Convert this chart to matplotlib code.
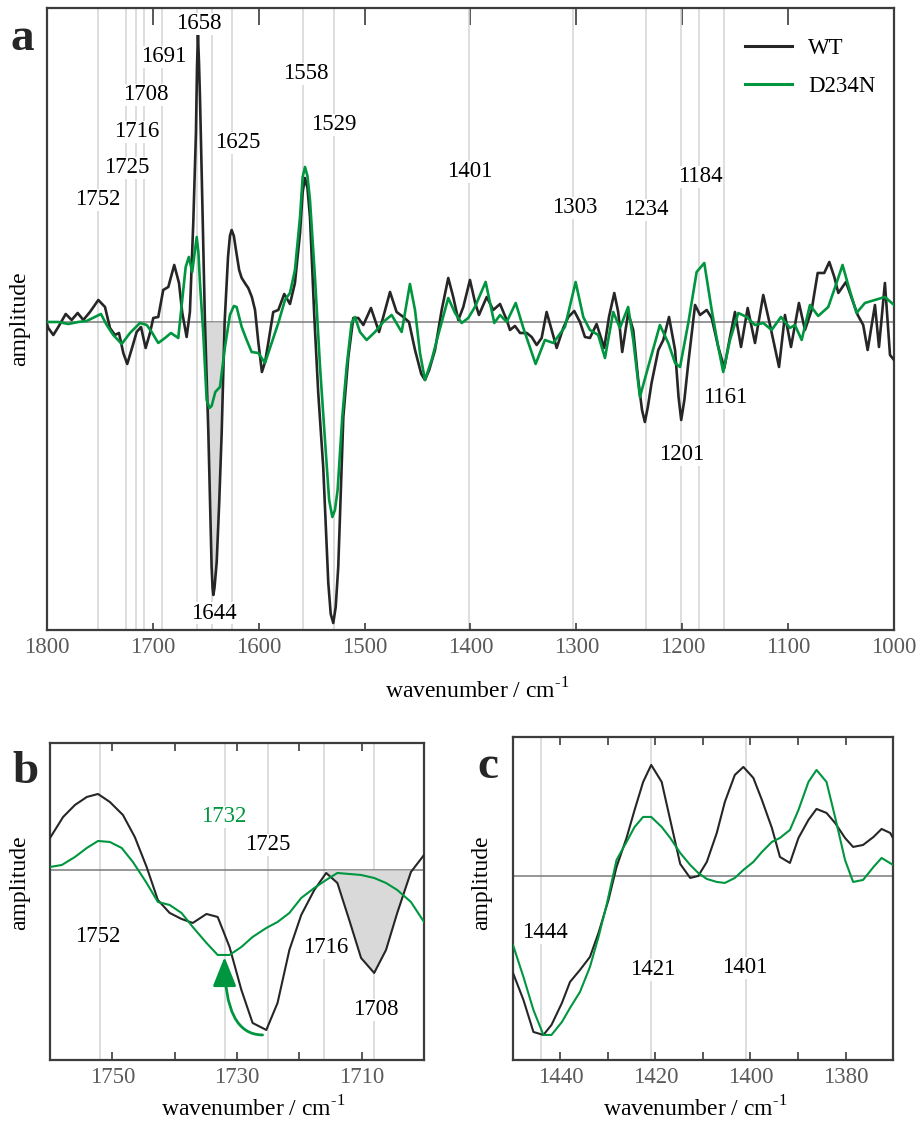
import numpy as np
import matplotlib.pyplot as plt
from matplotlib.patches import FancyArrowPatch, ArrowStyle
from matplotlib.lines import Line2D

plt.rcParams['font.family'] = ['Liberation Serif', 'DejaVu Serif']
plt.rcParams['mathtext.fontset'] = 'custom'
plt.rcParams['mathtext.rm'] = 'Liberation Serif'

# ---------------- data: (wavenumber, amplitude) pairs ----------------
# panel a, full range
wt_a = np.array([
    (1800, -0.02), (1798.8, -0.06), (1794.0, -0.13), (1789.3, -0.05), (1782.3, 0.08),
    (1776.7, 0.02), (1771.0, 0.09), (1765.7, 0.02), (1759.4, 0.10), (1751.5, 0.22),
    (1745.2, 0.15), (1740.5, -0.06), (1735.8, -0.13), (1732.0, -0.11), (1727.9, -0.31),
    (1724.2, -0.42), (1719.4, -0.25), (1715.3, -0.10), (1711.2, -0.05), (1706.8, -0.26),
    (1702.7, -0.11), (1699.6, 0.04), (1694.9, 0.05), (1690.2, 0.32), (1685.4, 0.35),
    (1679.8, 0.57), (1675.3, 0.39), (1672.2, 0.09), (1668.1, -0.15), (1665.0, 0.10),
    (1661.8, 1.00), (1659.3, 1.89), (1658.3, 2.55), (1657.4, 2.87), (1656.5, 2.62),
    (1655.5, 2.25), (1653.9, 1.50), (1652.3, 0.70), (1650.8, 0.00), (1647.6, -1.10),
    (1644.5, -2.45), (1643.6, -2.66), (1642.9, -2.73), (1641.8, -2.66), (1639.7, -2.40),
    (1637.3, -1.80), (1635.0, -1.11), (1632.2, 0.00), (1629.0, 0.65), (1627.2, 0.86),
    (1625.6, 0.92), (1623.5, 0.86), (1621.5, 0.72), (1618.5, 0.52), (1616.1, 0.44),
    (1612.5, 0.38), (1609.9, 0.34), (1606.5, 0.25), (1603.5, 0.12), (1600.4, -0.20),
    (1597.0, -0.50), (1594.0, -0.40), (1591.0, -0.21), (1586.3, 0.10), (1581.5, 0.12),
    (1575.9, 0.28), (1570.5, 0.18), (1565.8, 0.39), (1561.0, 0.89), (1558.5, 1.30),
    (1556.3, 1.44), (1554.0, 1.34), (1551.6, 1.05), (1547.5, 0.05), (1543.8, -0.71),
    (1539.1, -1.45), (1534.3, -2.61), (1532.0, -2.92), (1529.6, -3.01), (1527.3, -2.85),
    (1524.9, -2.45), (1520.1, -0.95), (1515.4, -0.35), (1510.7, 0.04), (1506.0, 0.04),
    (1501.2, -0.03), (1494.0, 0.14), (1486.4, -0.10), (1482.4, 0.05), (1476.0, 0.30),
    (1469.8, 0.10), (1463.4, 0.05), (1458.1, 0.00), (1452.4, -0.28), (1446.5, -0.52),
    (1443.0, -0.58), (1439.0, -0.48), (1433.5, -0.28), (1427.2, 0.12), (1421.0, 0.44),
    (1416.3, 0.25), (1411.5, 0.02), (1406.8, 0.15), (1400.5, 0.42), (1395.8, 0.20),
    (1392.0, 0.07), (1384.7, 0.25), (1378.5, 0.12), (1372.1, 0.18), (1365.8, 0.02),
    (1362.7, -0.08), (1358.0, -0.04), (1353.2, -0.11), (1346.9, -0.11), (1342.2, -0.15),
    (1337.5, -0.23), (1332.8, -0.16), (1328.1, 0.10), (1323.3, -0.08), (1318.6, -0.26),
    (1312.4, -0.06), (1307.6, 0.05), (1302.0, 0.11), (1296.6, 0.00), (1291.9, -0.15),
    (1287.2, -0.16), (1280.9, -0.02), (1273.7, -0.26), (1269.2, 0.05), (1264.2, 0.29),
    (1260.5, 0.10), (1256.7, -0.30), (1251.1, 0.09), (1246.3, -0.08), (1241.6, -0.58),
    (1238.0, -0.88), (1235.3, -1.00), (1232.5, -0.85), (1229.0, -0.61), (1222.6, -0.28),
    (1217.9, -0.18), (1212.5, 0.05), (1206.8, -0.28), (1203.5, -0.75), (1201.0, -0.98),
    (1198.0, -0.78), (1194.3, -0.41), (1187.9, 0.17), (1183.2, 0.07), (1176.9, 0.12),
    (1172.2, 0.04), (1166.0, -0.25), (1160.3, -0.46), (1154.9, -0.15), (1150.2, 0.10),
    (1144.5, -0.25), (1138.2, 0.14), (1131.3, -0.21), (1123.5, 0.27), (1117.1, -0.03),
    (1108.6, -0.45), (1103.0, 0.07), (1097.3, -0.25), (1089.8, 0.19), (1084.1, -0.08),
    (1077.8, 0.12), (1072.1, 0.49), (1065.9, 0.49), (1061.1, 0.60), (1056.4, 0.45),
    (1052.6, 0.29), (1045.4, 0.40), (1040.0, 0.24), (1034.3, 0.07), (1029.1, -0.03),
    (1024.9, -0.28), (1018.0, 0.17), (1014.2, -0.25), (1008.6, 0.39), (1003.8, -0.33),
    (1000.0, -0.38),
])

mut_a = np.array([
    (1800, 0.00), (1789.3, 0.00), (1779.9, -0.02), (1770.4, 0.00), (1762.5, 0.01),
    (1754.7, 0.05), (1749.0, 0.08), (1743.6, -0.03), (1737.4, -0.13), (1729.4, -0.22),
    (1721.6, -0.11), (1712.2, -0.01), (1705.8, -0.03), (1701.1, -0.10), (1694.9, -0.21),
    (1688.5, -0.16), (1682.9, -0.11), (1676.0, -0.16), (1672.2, 0.22), (1669.0, 0.55),
    (1666.0, 0.65), (1662.8, 0.50), (1660.2, 0.72), (1658.6, 0.85), (1657.0, 0.70),
    (1655.5, 0.39), (1652.4, -0.11), (1649.2, -0.78), (1646.5, -0.86), (1644.5, -0.84),
    (1641.0, -0.70), (1636.6, -0.65), (1631.9, -0.25), (1627.2, 0.07), (1623.5, 0.16),
    (1620.9, 0.15), (1616.1, -0.05), (1611.4, -0.18), (1606.7, -0.30), (1600.4, -0.31),
    (1594.1, -0.41), (1587.8, -0.21), (1581.5, -0.01), (1575.2, 0.22), (1570.5, 0.29),
    (1565.8, 0.52), (1561.0, 1.05), (1558.5, 1.45), (1556.3, 1.55), (1554.0, 1.46),
    (1551.6, 1.22), (1546.9, 0.45), (1542.1, -0.45), (1536.8, -1.28), (1533.5, -1.78),
    (1530.5, -1.95), (1528.0, -1.88), (1525.5, -1.68), (1521.1, -0.95), (1517.0, -0.45),
    (1512.3, -0.01), (1509.1, 0.05), (1504.4, -0.10), (1498.1, -0.18), (1490.2, -0.10),
    (1482.4, 0.00), (1474.5, 0.07), (1465.0, -0.10), (1457.2, 0.38), (1452.4, 0.12),
    (1447.7, -0.31), (1443.0, -0.58), (1436.7, -0.38), (1430.5, -0.13), (1421.0, 0.24),
    (1414.6, 0.09), (1408.3, -0.01), (1402.1, 0.04), (1395.8, 0.15), (1385.7, 0.40),
    (1377.5, -0.01), (1372.1, 0.07), (1365.8, 0.00), (1357.3, 0.19), (1350.1, -0.06),
    (1338.5, -0.42), (1329.7, -0.18), (1321.8, -0.21), (1310.8, -0.05), (1300.7, 0.40),
    (1293.5, 0.05), (1287.2, -0.08), (1279.4, -0.13), (1273.0, -0.36), (1265.2, 0.10),
    (1258.9, -0.06), (1251.1, 0.15), (1246.3, -0.18), (1240.0, -0.75), (1232.2, -0.45),
    (1221.1, -0.03), (1213.2, -0.21), (1206.8, -0.41), (1202.1, -0.45), (1194.3, -0.01),
    (1186.4, 0.50), (1179.2, 0.59), (1172.2, 0.12), (1166.0, -0.25), (1161.3, -0.50),
    (1154.9, -0.18), (1147.1, 0.09), (1139.2, 0.05), (1131.3, -0.03), (1123.5, -0.01),
    (1115.6, -0.08), (1106.8, 0.05), (1098.3, -0.06), (1093.6, -0.03), (1087.2, -0.18),
    (1079.4, 0.17), (1071.6, 0.06), (1062.1, 0.15), (1054.3, 0.39), (1048.6, 0.57),
    (1043.3, 0.37), (1035.4, 0.09), (1027.5, 0.19), (1018.0, 0.22), (1008.6, 0.25),
    (1000.0, 0.17),
])

# panel b, 1760-1700 detail
wt_b = np.array([
    (1760.0, 0.32), (1757.9, 0.53), (1756.0, 0.65), (1754.1, 0.73), (1752.3, 0.76),
    (1750.4, 0.68), (1748.3, 0.55), (1746.4, 0.33), (1744.5, 0.03), (1742.7, -0.30),
    (1740.8, -0.43), (1738.9, -0.49), (1737.1, -0.53), (1734.9, -0.44), (1733.1, -0.47),
    (1731.2, -0.77), (1729.3, -1.20), (1727.5, -1.53), (1725.3, -1.60), (1723.5, -1.33),
    (1721.6, -0.80), (1719.7, -0.45), (1717.6, -0.20), (1715.7, -0.03), (1713.9, -0.13),
    (1712.0, -0.50), (1710.1, -0.88), (1708.0, -1.03), (1706.1, -0.80), (1704.3, -0.43),
    (1702.1, -0.02), (1700.0, 0.15),
])

mut_b = np.array([
    (1760.0, 0.03), (1758.1, 0.05), (1756.0, 0.13), (1754.1, 0.22), (1752.3, 0.29),
    (1750.4, 0.28), (1748.5, 0.22), (1746.7, 0.08), (1744.5, -0.13), (1742.7, -0.32),
    (1740.8, -0.35), (1738.9, -0.43), (1737.1, -0.57), (1734.9, -0.73), (1733.1, -0.85),
    (1731.2, -0.85), (1729.3, -0.77), (1727.5, -0.67), (1725.3, -0.58), (1723.5, -0.52),
    (1721.6, -0.43), (1719.7, -0.28), (1717.6, -0.18), (1715.7, -0.10), (1713.9, -0.03),
    (1712.0, -0.04), (1710.1, -0.05), (1708.0, -0.08), (1706.1, -0.13), (1704.3, -0.20),
    (1702.1, -0.32), (1700.0, -0.52),
])

# panel c, 1450-1370 detail
wt_c = np.array([
    (1450.0, -0.97), (1447.8, -1.24), (1445.7, -1.56), (1443.6, -1.59), (1441.9, -1.49),
    (1439.7, -1.27), (1438.0, -1.06), (1435.9, -0.94), (1433.8, -0.81), (1432.0, -0.57),
    (1429.9, -0.24), (1428.2, 0.09), (1426.1, 0.38), (1424.4, 0.66), (1422.6, 0.94),
    (1420.9, 1.11), (1418.7, 0.94), (1416.9, 0.56), (1414.8, 0.12), (1412.7, -0.02),
    (1411.0, 0.00), (1409.2, 0.14), (1407.1, 0.43), (1405.4, 0.74), (1403.3, 1.01),
    (1401.5, 1.09), (1399.4, 0.98), (1397.6, 0.76), (1395.5, 0.48), (1393.8, 0.19),
    (1391.7, 0.13), (1389.9, 0.38), (1387.8, 0.56), (1386.1, 0.67), (1384.0, 0.63),
    (1382.2, 0.53), (1380.1, 0.38), (1378.4, 0.29), (1376.3, 0.31), (1374.1, 0.39),
    (1372.4, 0.47), (1370.6, 0.43), (1370.0, 0.38),
])

mut_c = np.array([
    (1450.0, -0.69), (1447.8, -1.01), (1445.7, -1.34), (1443.6, -1.59), (1441.9, -1.59),
    (1439.7, -1.46), (1438.0, -1.32), (1435.9, -1.16), (1433.8, -0.91), (1432.0, -0.61),
    (1430.2, -0.27), (1428.2, 0.16), (1426.1, 0.34), (1424.4, 0.49), (1422.6, 0.59),
    (1420.9, 0.59), (1418.7, 0.49), (1416.9, 0.38), (1414.8, 0.23), (1412.7, 0.11),
    (1411.0, 0.03), (1409.2, -0.03), (1407.1, -0.06), (1405.4, -0.07), (1403.3, -0.02),
    (1401.5, 0.06), (1399.4, 0.14), (1397.6, 0.24), (1395.5, 0.34), (1393.8, 0.38),
    (1391.7, 0.46), (1389.9, 0.66), (1387.8, 0.94), (1386.1, 1.06), (1384.0, 0.94),
    (1382.2, 0.59), (1380.1, 0.16), (1378.4, -0.06), (1376.3, -0.04), (1374.1, 0.09),
    (1372.4, 0.18), (1370.0, 0.11),
])

# band positions marked by thin vertical lines
bands_a = [1752, 1725, 1716, 1708, 1691, 1658, 1644, 1625, 1558, 1529,
           1401, 1303, 1234, 1201, 1184, 1161]
bands_b = [1752, 1732, 1725, 1716, 1708]
bands_c = [1444, 1421, 1401]

# peak labels: (text, wavenumber, amplitude)
labels_a = [('1658', 1657, 2.98), ('1691', 1690, 2.65), ('1708', 1707, 2.27),
            ('1716', 1715, 1.90), ('1725', 1725, 1.54), ('1752', 1752, 1.22),
            ('1625', 1620, 1.79), ('1558', 1556, 2.48), ('1529', 1529, 1.97),
            ('1401', 1400.5, 1.50), ('1303', 1302, 1.14), ('1234', 1234, 1.12),
            ('1184', 1183, 1.45), ('1161', 1159.6, -0.76), ('1201', 1201, -1.33),
            ('1644', 1642, -2.91)]
labels_b = [('1725', 1725.1, 0.25), ('1752', 1752.3, -0.67),
            ('1716', 1715.7, -0.78), ('1708', 1707.7, -1.40)]
label_b_mut = ('1732', 1732.2, 0.53)
labels_c = [('1444', 1443.2, -0.57), ('1421', 1420.5, -0.94), ('1401', 1401.2, -0.92)]

# shaded WT bands (high, low wavenumber)
shade_a = (1651, 1632)
shade_b = (1716, 1702)
shade_c = (1411, 1393.5)

WT_COLOR = '#262626'
MUT_COLOR = '#00963f'
SHADE = '#d9d9d9'
BAND = '#d4d4d4'
SPINE = '#3c3c3c'
TICKLABEL = '#5a5a5a'
FS = 16.5
XLABEL = 'wavenumber / cm$^{\\mathregular{\u2010}1}$'

fig = plt.figure(figsize=(9.21, 11.22), dpi=100)
ax_a = fig.add_axes([0.0510, 0.4385, 0.9197, 0.5544])
ax_b = fig.add_axes([0.0543, 0.0553, 0.4061, 0.2825])
ax_c = fig.add_axes([0.5570, 0.0553, 0.4126, 0.2879])


def setup(ax, xlim, ylim, major, minor, top_len, bottom_len):
    ax.set_xlim(*xlim)
    ax.set_ylim(*ylim)
    ax.set_yticks([])
    ax.set_xticks(major)
    ax.set_xticks(minor, minor=True)
    ax.tick_params(axis='x', which='both', direction='in', bottom=True, top=False,
                   length=bottom_len, width=1.2, color=SPINE, labelsize=FS,
                   labelcolor=TICKLABEL, pad=5)
    top = ax.secondary_xaxis('top')
    top.set_xticks(list(major) + list(minor))
    top.tick_params(axis='x', direction='in', length=top_len, width=1.2,
                    color=SPINE, labeltop=False)
    top.spines['top'].set_visible(False)
    for s in ax.spines.values():
        s.set_color(SPINE)
        s.set_linewidth(1.6)
    ax.axhline(0, color='#7a7a7a', lw=1.1, zorder=1)
    ax.set_ylabel('amplitude', fontsize=FS + 0.5)
    ax.set_xlabel(XLABEL, fontsize=FS + 0.5)


def draw(ax, wt, mut, bands, shade, lw):
    for b in bands:
        ax.axvline(b, color=BAND, lw=1.1, zorder=0.5)
    x, y = wt[:, 0], wt[:, 1]
    ax.fill_between(x, y, 0, where=(x <= shade[0]) & (x >= shade[1]) & (y <= 0.001),
                    color=SHADE, lw=0, zorder=1.5)
    ax.plot(x, y, color=WT_COLOR, lw=lw, zorder=3, solid_joinstyle='round')
    ax.plot(mut[:, 0], mut[:, 1], color=MUT_COLOR, lw=lw, zorder=4,
            solid_joinstyle='round')


def put_labels(ax, labels, color='black'):
    for txt, xx, yy in labels:
        ax.text(xx, yy, txt, fontsize=FS, color=color, ha='center', va='center',
                zorder=5, bbox=dict(facecolor='white', edgecolor='none', pad=0.5))


# panel a
setup(ax_a, (1800, 1000), (-3.08, 3.14), range(1800, 999, -100), [], 12, 5)
draw(ax_a, wt_a, mut_a, bands_a, shade_a, 1.9)
put_labels(ax_a, labels_a)
ax_a.xaxis.set_label_coords(0.508, -0.078)
ax_a.yaxis.set_label_coords(-0.02, 0.50)
handles = [Line2D([], [], color=WT_COLOR, lw=2.2), Line2D([], [], color=MUT_COLOR, lw=2.2)]
ax_a.legend(handles, ['WT', 'D234N'], loc='upper left', bbox_to_anchor=(0.824, 0.951),
            frameon=False, fontsize=FS, handlelength=2.05, handletextpad=0.7,
            labelspacing=0.72, borderpad=0, borderaxespad=0)

# panel b
setup(ax_b, (1760, 1700), (-1.90, 1.27), [1750, 1730, 1710], [1740, 1720], 6, 6)
draw(ax_b, wt_b, mut_b, bands_b, shade_b, 1.5)
put_labels(ax_b, labels_b)
put_labels(ax_b, [label_b_mut], color=MUT_COLOR)
ax_b.xaxis.set_label_coords(0.543, -0.115)
ax_b.yaxis.set_label_coords(-0.053, 0.558)
mut_min = mut_b[np.argmin(mut_b[:, 1])]
arrow = FancyArrowPatch((1725.9, -1.65), (1732.0, mut_min[1] - 0.02),
                        connectionstyle='angle3,angleA=0,angleB=90',
                        arrowstyle=ArrowStyle('-|>', head_length=0.9, head_width=0.36),
                        mutation_scale=20, color=MUT_COLOR, lw=2.0,
                        shrinkA=0, shrinkB=0, zorder=6)
ax_b.add_patch(arrow)

# panel c
setup(ax_c, (1450, 1370), (-1.84, 1.39), [1440, 1420, 1400, 1380],
      [1450, 1430, 1410, 1390, 1370], 6, 6)
draw(ax_c, wt_c, mut_c, bands_c, shade_c, 1.5)
put_labels(ax_c, labels_c)
ax_c.xaxis.set_label_coords(0.479, -0.113)
ax_c.yaxis.set_label_coords(-0.055, 0.548)

# panel letters
for letter, px, py in [('a', 10, 50), ('b', 12, 783), ('c', 477, 778)]:
    fig.text(px / 921, 1 - py / 1122, letter, fontsize=34, fontweight='bold',
             color='#262626', ha='left', va='baseline')

fig.savefig('out.png', dpi=100)
